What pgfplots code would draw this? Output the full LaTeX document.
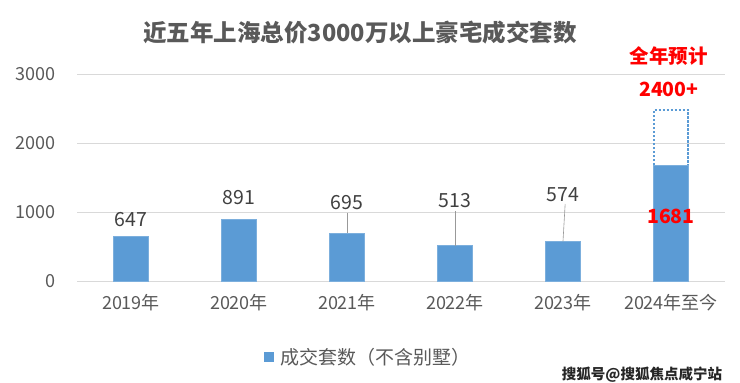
\documentclass[border=0pt]{standalone}
\usepackage{pgfplots}
\pgfplotsset{compat=1.18}
\usepackage{fontspec}
\setmainfont{Noto Sans CJK SC}
\definecolor{barblue}{HTML}{5B9BD5}
\definecolor{txtgray}{HTML}{595959}
\definecolor{lblgray}{HTML}{404040}
\definecolor{gridgray}{HTML}{D9D9D9}
\definecolor{redlbl}{HTML}{FF0000}
\begin{document}
\begin{tikzpicture}[x=1pt,y=1pt]
\useasboundingbox (0,0) rectangle (740,383);
\begin{axis}[
  at={(77pt,102pt)}, anchor=south west,
  scale only axis, width=648pt, height=207pt,
  xmin=-0.5, xmax=5.5, ymin=0, ymax=3000,
  xtick={0,1,2,3,4,5},
  xticklabels={2019年,2020年,2021年,2022年,2023年,2024年至今},
  ytick={0,1000,2000,3000},
  /pgf/number format/assume math mode=true,
  /pgf/number format/1000 sep={},
  ymajorgrids, grid style={gridgray, line width=0.9pt},
  axis line style={draw=none},
  major tick length=0pt,
  tick label style={font=\fontsize{18}{20}\selectfont, text=txtgray},
  yticklabel style={xshift=-18pt},
  xticklabel style={yshift=-10pt},
  clip=false,
  legend style={at={(0.283,-0.367)}, anchor=west, draw=none, fill=none,
    font=\fontsize{19}{21}\selectfont, text=txtgray},
  legend image code/.code={\fill[barblue, draw=none] (0pt,-5pt) rectangle (10pt,5pt);
    \path[draw=none, fill=none] (0pt,0pt) -- (15pt,0pt);},
]
\addplot[ybar, bar width=35pt, bar shift=0pt, fill=barblue, draw=barblue!80!white]
  coordinates {(0,647) (1,891) (2,695) (3,513) (4,574) (5,1681)};
\addlegendentry{成交套数（不含别墅）}
% projected full-year (dotted outline from 1681 to ~2480)
\addplot[barblue, line width=2.2pt, dash pattern=on 2.2pt off 1.8pt, forget plot]
  coordinates {(4.84,1681) (4.84,2478) (5.16,2478) (5.16,1681)};
% data labels
\begin{scope}[every node/.style={font=\fontsize{19.5}{22}\selectfont, text=lblgray}]
\node at (axis cs:0,884) {647};
\node at (axis cs:1,1203) {891};
\node at (axis cs:2,1130) {695};
\node at (axis cs:3,1159) {513};
\node at (axis cs:4,1246) {574};
\end{scope}
\draw[gray!80, line width=0.6pt] (axis cs:2,990) -- (axis cs:2,695);
\draw[gray!80, line width=0.6pt] (axis cs:3,1017) -- (axis cs:3,513);
\draw[gray!80, line width=0.6pt] (axis cs:4.02,1116) -- (axis cs:4,574);
\begin{scope}[every node/.style={font=\bfseries\fontsize{19.5}{22}\selectfont, text=redlbl}]
\node at (axis cs:4.98,3261) {全年预计};
\node at (axis cs:4.98,2783) {2400+};
\node at (axis cs:5,942) {1681};
\end{scope}
\end{axis}
\node[font=\bfseries\fontsize{23.5}{27}\selectfont, text=txtgray] at (360,350) {近五年上海总价3000万以上豪宅成交套数};
\node[font=\bfseries\fontsize{14.5}{16}\selectfont, text=black!85] at (642,8) {搜狐号@搜狐焦点咸宁站};
\end{tikzpicture}
\end{document}
